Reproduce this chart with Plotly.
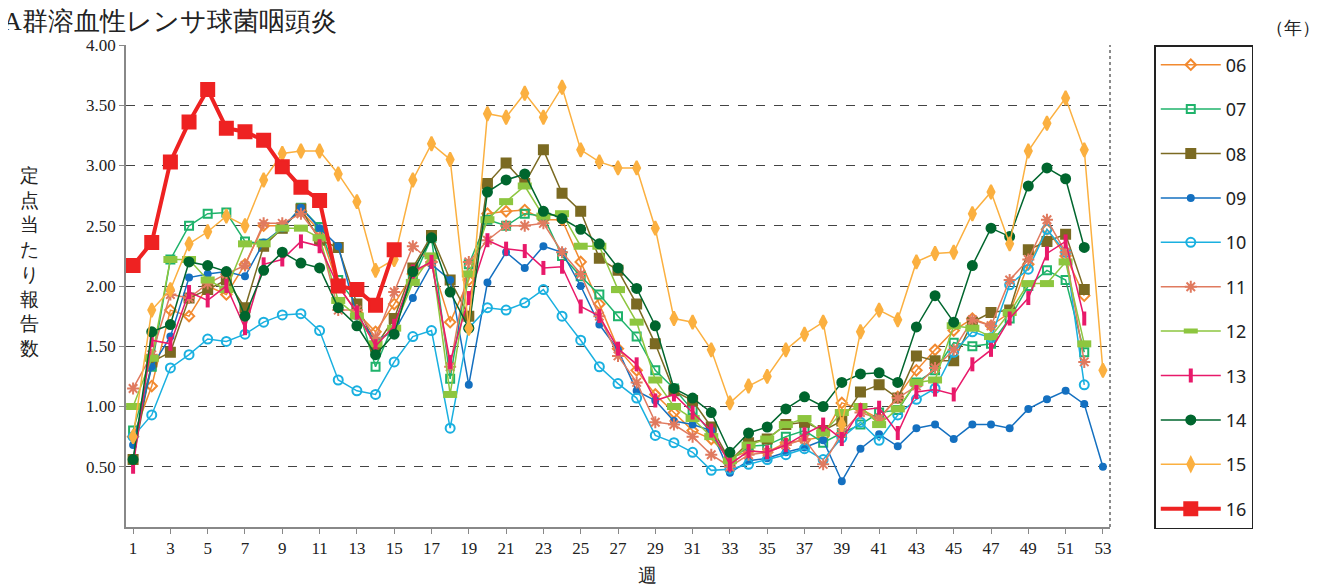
import plotly.graph_objects as go

weeks = list(range(1, 54))
tick_weeks = list(range(1, 54, 2))
y_ticks = [0.5, 1.0, 1.5, 2.0, 2.5, 3.0, 3.5, 4.0]

s06 = [0.75, 1.17, 1.80, 1.75, 2.00, 1.93, 2.18, 2.50, 2.50, 2.62, 2.46, 2.00, 1.78, 1.62, 1.85, 2.10, 2.20, 1.70, 2.05, 2.60,
       2.62, 2.63, 2.55, 2.55, 2.20, 1.85, 1.48, 1.30, 1.10, 0.95, 0.80, 0.73, 0.57, 0.63, 0.62, 0.70, 0.72, 0.75, 1.03, 0.98,
       0.90, 1.08, 1.30, 1.47, 1.63, 1.73, 1.67, 1.78, 2.18, 2.47, 2.25, 1.92]
s07 = [0.80, 1.33, 2.22, 2.50, 2.60, 2.61, 2.37, 2.35, 2.48, 2.65, 2.49, 2.05, 1.85, 1.33, 1.70, 2.05, 2.40, 1.23, 2.18, 2.55,
       2.50, 2.60, 2.58, 2.25, 2.08, 1.93, 1.75, 1.58, 1.30, 1.15, 0.97, 0.78, 0.55, 0.67, 0.68, 0.75, 0.80, 0.70, 0.78, 0.85,
       0.95, 0.97, 1.20, 1.30, 1.53, 1.50, 1.52, 1.73, 2.00, 2.13, 2.05, 1.45]
s08 = [0.56, 1.37, 1.45, 1.90, 1.97, 2.05, 1.82, 2.33, 2.48, 2.64, 2.38, 2.32, 1.85, 1.50, 1.73, 2.15, 2.42, 2.05, 1.75, 2.85,
       3.02, 2.85, 3.13, 2.77, 2.62, 2.23, 2.13, 1.85, 1.52, 1.13, 1.05, 0.83, 0.55, 0.70, 0.73, 0.85, 0.87, 0.80, 0.88, 1.12,
       1.18, 1.07, 1.42, 1.38, 1.38, 1.70, 1.78, 1.80, 2.30, 2.37, 2.43, 1.97]
s09 = [0.68, 1.33, 1.58, 2.07, 2.10, 2.12, 2.08, 2.36, 2.48, 2.65, 2.48, 2.33, 1.75, 1.55, 1.62, 1.90, 2.18, 2.05, 1.18, 2.03,
       2.28, 2.15, 2.33, 2.28, 2.00, 1.68, 1.47, 1.13, 1.05, 0.88, 0.85, 0.80, 0.45, 0.55, 0.57, 0.62, 0.66, 0.72, 0.38, 0.65,
       0.77, 0.67, 0.82, 0.85, 0.73, 0.85, 0.85, 0.82, 0.98, 1.06, 1.13, 1.02, 0.50]
s10 = [0.75, 0.93, 1.32, 1.43, 1.56, 1.54, 1.60, 1.70, 1.76, 1.77, 1.63, 1.22, 1.13, 1.10, 1.37, 1.58, 1.63, 0.82, 1.65, 1.82,
       1.80, 1.86, 1.97, 1.75, 1.55, 1.33, 1.19, 1.07, 0.76, 0.70, 0.62, 0.47, 0.48, 0.52, 0.56, 0.60, 0.65, 0.56, 0.74, 0.87,
       0.72, 0.93, 1.06, 1.15, 1.45, 1.62, 1.57, 2.01, 2.14, 2.47, 2.28, 1.18]
s11 = [1.15, 1.43, 1.93, 1.90, 2.02, 2.10, 2.17, 2.52, 2.52, 2.60, 2.40, 1.80, 1.80, 1.57, 1.95, 2.33, 2.20, 1.33, 2.20, 2.38,
       2.50, 2.50, 2.52, 2.28, 2.10, 1.75, 1.42, 1.20, 0.87, 0.85, 0.75, 0.60, 0.50, 0.60, 0.62, 0.68, 0.73, 0.52, 0.78, 0.95,
       0.90, 1.07, 1.17, 1.32, 1.47, 1.72, 1.67, 2.05, 2.22, 2.55, 2.28, 1.37]
s12 = [1.00, 1.40, 2.22, 2.22, 2.05, 1.97, 2.35, 2.35, 2.48, 2.48, 2.40, 1.88, 1.75, 1.52, 1.65, 2.03, 2.25, 1.10, 2.10, 2.55,
       2.70, 2.83, 2.58, 2.60, 2.33, 2.33, 1.97, 1.70, 1.22, 1.00, 0.90, 0.75, 0.55, 0.68, 0.73, 0.85, 0.90, 0.78, 0.95, 1.00,
       0.85, 0.98, 1.20, 1.22, 1.67, 1.65, 1.58, 1.78, 2.02, 2.02, 2.20, 1.52]
s13 = [0.50, 1.55, 1.52, 1.95, 1.88, 2.00, 1.65, 2.18, 2.22, 2.37, 2.33, 2.00, 1.78, 1.50, 1.67, 2.12, 2.20, 1.37, 1.90, 2.38,
       2.31, 2.29, 2.15, 2.16, 1.83, 1.75, 1.48, 1.35, 1.05, 1.10, 0.95, 0.80, 0.52, 0.63, 0.62, 0.68, 0.77, 0.85, 0.73, 0.97,
       0.99, 0.78, 1.12, 1.14, 1.10, 1.35, 1.47, 1.73, 1.90, 2.27, 2.37, 1.73]
s14 = [0.56, 1.62, 1.68, 2.20, 2.17, 2.12, 1.75, 2.13, 2.28, 2.19, 2.15, 1.82, 1.67, 1.43, 1.60, 2.12, 2.40, 1.95, 1.65, 2.78,
       2.88, 2.93, 2.62, 2.56, 2.47, 2.35, 2.15, 1.98, 1.67, 1.15, 1.07, 0.95, 0.62, 0.78, 0.83, 0.98, 1.08, 1.00, 1.20, 1.27,
       1.28, 1.20, 1.66, 1.92, 1.70, 2.17, 2.48, 2.41, 2.83, 2.98, 2.89, 2.32]
s15 = [0.75, 1.80, 1.97, 2.35, 2.45, 2.58, 2.50, 2.88, 3.10, 3.12, 3.12, 2.93, 2.70, 2.13, 2.22, 2.88, 3.18, 3.05, 1.65, 3.43,
       3.40, 3.60, 3.40, 3.65, 3.13, 3.03, 2.98, 2.98, 2.48, 1.73, 1.70, 1.47, 1.03, 1.17, 1.25, 1.47, 1.60, 1.70, 0.85, 1.62,
       1.80, 1.72, 2.20, 2.27, 2.28, 2.60, 2.78, 2.35, 3.12, 3.35, 3.56, 3.13, 1.30]
s16 = [2.17, 2.36, 3.03, 3.36, 3.63, 3.31, 3.28, 3.21, 2.99, 2.82, 2.71, 2.00, 1.97, 1.84, 2.30]

series = [
    ("06", s06, "#f28a30", "diamond-open", 8, 1.5),
    ("07", s07, "#1fb36b", "square-open", 8, 1.5),
    ("08", s08, "#7b6a22", "square", 9, 1.5),
    ("09", s09, "#1470c0", "circle", 6, 1.5),
    ("10", s10, "#1ab0e0", "circle-open", 9, 1.5),
    ("11", s11, "#e07a5f", "asterisk-open", 10, 1.5),
    ("12", s12, "#8dc63f", "line-ew-open", 10, 1.5),
    ("13", s13, "#e8196a", "line-ns-open", 10, 1.5),
    ("14", s14, "#00662e", "circle", 9, 1.5),
    ("15", s15, "#fbb040", "diamond-tall", 10, 1.5),
    ("16", s16, "#ee2222", "square", 13, 4),
]

fig = go.Figure()
for name, vals, color, sym, size, lw in series:
    mline = dict(color=color, width=2)
    if sym == "line-ew-open":
        mline = dict(color=color, width=7)
    elif sym == "line-ns-open":
        mline = dict(color=color, width=4)
    fig.add_trace(go.Scatter(
        x=weeks[:len(vals)], y=vals, name=name, legendgroup=name,
        mode="lines+markers",
        line=dict(color=color, width=lw),
        marker=dict(symbol=sym, size=size, color=color, line=mline),
    ))

# dashed right border of the plot area
fig.add_shape(type="line", xref="paper", yref="paper", x0=1, x1=1, y0=0, y1=1,
              line=dict(color="#666", width=1.5, dash="dot"))

fig.add_annotation(text="A群溶血性レンサ球菌咽頭炎", xref="paper", yref="paper",
                   x=-0.127, y=1.048, xanchor="left", yanchor="middle", showarrow=False,
                   font=dict(size=26, color="#222"))
fig.add_annotation(text="（年）", xref="paper", yref="paper", x=1.215, y=1.01,
                   xanchor="right", yanchor="bottom", showarrow=False, font=dict(size=18, color="#222"))
fig.add_annotation(text="<br>".join("定点当たり報告数"), xref="paper", yref="paper",
                   x=-0.098, y=0.55, xanchor="center", yanchor="middle", showarrow=False,
                   font=dict(size=19, color="#222"))
fig.add_annotation(text="週", xref="paper", yref="paper", x=0.53, y=-0.075,
                   xanchor="center", yanchor="top", showarrow=False, font=dict(size=19, color="#222"))

fig.update_layout(
    width=1321, height=587,
    margin=dict(l=118, r=219, t=37, b=68),
    paper_bgcolor="white", plot_bgcolor="white",
    font=dict(family="Liberation Serif, serif", color="#222"),
    showlegend=True,
    legend=dict(x=1.045, y=1.0, xanchor="left", yanchor="top",
                bordercolor="#222", borderwidth=1.5, tracegroupgap=18,
                font=dict(family="Noto Sans, sans-serif", size=18),
                itemwidth=60, maxheight=580),
    xaxis=dict(range=[0.62, 53.38], tickvals=tick_weeks, showgrid=False,
               showline=True, linecolor="#888", linewidth=1.5, ticks="outside",
               ticklen=5, tickcolor="#888", tickfont=dict(size=17), zeroline=False),
    yaxis=dict(range=[0, 4.0], tickvals=y_ticks, tickformat=".2f",
               showgrid=True, gridcolor="#444", griddash="dash", gridwidth=1,
               showline=True, linecolor="#888", linewidth=1.5, ticks="outside",
               ticklen=5, tickcolor="#888", tickfont=dict(size=17), zeroline=False),
)

fig.write_html("out.html")
